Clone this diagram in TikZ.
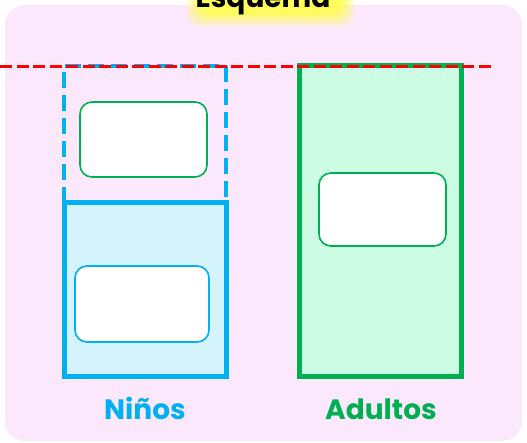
\documentclass[tikz,border=0pt]{standalone}
\usepackage{fontspec}
\setmainfont{Poppins}
\definecolor{bgpink}{HTML}{FCE8FC}
\definecolor{kblue}{HTML}{00B0F0}
\definecolor{kbluefill}{HTML}{D5F3FD}
\definecolor{agreen}{HTML}{00B050}
\definecolor{agreenfill}{HTML}{CCFCE4}
\definecolor{glow}{HTML}{FFFF40}
\begin{document}
\begin{tikzpicture}[x=1pt,y=-1pt,
  panel/.style={line width=5pt},
  inner/.style={draw,fill=white,rounded corners=12pt,line width=1.6pt},
  lbl/.style={font=\bfseries\fontsize{28}{30}\selectfont,anchor=base}]
\useasboundingbox (0,0) rectangle (527,443);
\fill[white] (0,0) rectangle (527,443);
% background
\fill[bgpink,rounded corners=20pt] (5,5) rectangle (522,441);
% title glow
\foreach \i/\o in {0/0.15,3/0.2,6/0.25,9/0.35,12/0.5}{
  \fill[glow,opacity=\o,rounded corners=14pt] (186+\i,-20+\i) rectangle (355-\i,27-\i);
}
\node[lbl,text=black] (title) at (263,8) {Esquema};
% Niños
\draw[panel,kblue,fill=kbluefill] (64,203) rectangle (226,376);
\coordinate (nbl) at (64,203);
\coordinate (ntl) at (64,66);
\coordinate (ntr) at (226,66);
\coordinate (nbr) at (226,203);
\draw[kblue,line width=4.5pt,dash pattern=on 16pt off 7pt] (nbl) -- (ntl) -- (ntr) -- (nbr);
\node[inner,draw=agreen,minimum width=127pt,minimum height=75pt] (nup) at (143.5,139.5) {};
\node[inner,draw=kblue,minimum width=134pt,minimum height=76pt] (nlow) at (142,304) {};
% Adultos
\draw[panel,agreen,fill=agreenfill] (299.5,66) rectangle (461.5,376);
\node[inner,draw=agreen,minimum width=127pt,minimum height=73pt] (aup) at (382.5,209.5) {};
% red line
\coordinate (rl) at (0,66.5);
\coordinate (rr) at (493,66.5);
\draw[red,line width=3pt,dash pattern=on 12pt off 4.5pt] (rl) -- (rr);
% labels
\node[lbl,text=kblue] (nin) at (145,419) {Niños};
\node[lbl,text=agreen] (adu) at (381,419) {Adultos};
\end{tikzpicture}
\end{document}
